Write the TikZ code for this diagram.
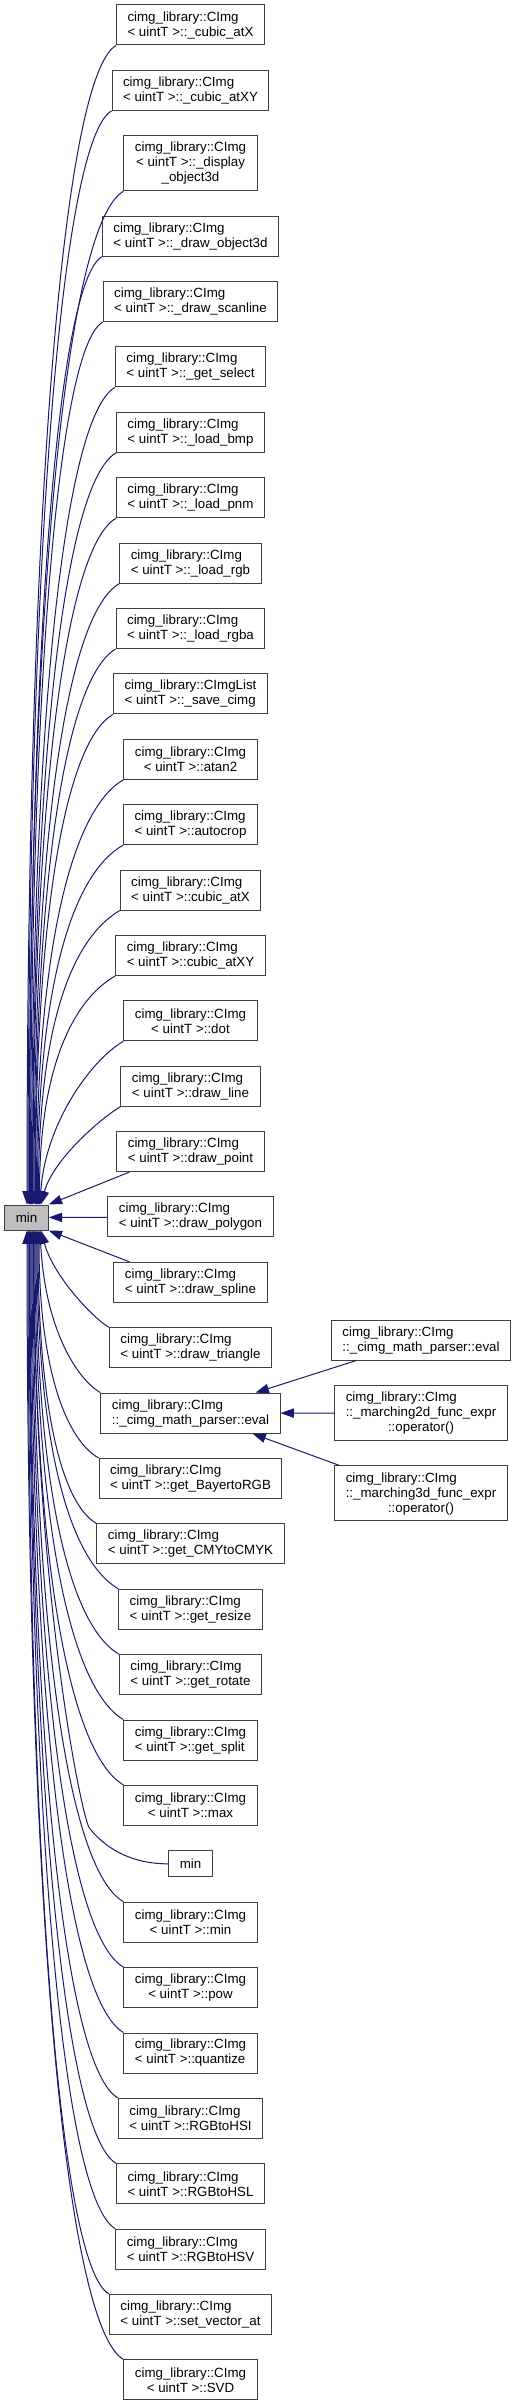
\documentclass[tikz,border=0pt]{standalone}
\usepackage{fontspec}
\setmainfont{Liberation Sans}
\usepackage{xcolor}
\definecolor{edgeblue}{HTML}{191970}
\definecolor{rootgray}{HTML}{BFBFBF}
\definecolor{rimgray}{HTML}{404040}
\usetikzlibrary{arrows.meta,positioning,calc}
\newcommand{\leftpair}[2]{\begin{tabular}[b]{@{}l@{}}#1\\#2\end{tabular}}

\begin{document}
\begin{tikzpicture}[
  x=0.75pt,y=-0.75pt,
  node distance=18.29pt,
  fn/.style={draw=rimgray,fill=white,line width=0.75pt,align=left,minimum height=30pt,inner xsep=8.25pt,inner ysep=1pt,font=\fontsize{10}{11.25}\selectfont},
  fnc/.style={fn,align=center},
  root/.style={fn,fill=rootgray,minimum height=18.75pt},
  call/.style={draw=edgeblue,line width=0.75pt,-{Triangle[length=10pt,width=7pt]}}
]
\useasboundingbox (0,0) rectangle (515,2405);
\node[root] (minroot) at (26.5,1217.5) {min};
% callers, top to bottom
\node[fn] (cubicX) at (190.5,25) {cimg\_library::CImg\\< uintT >::\_cubic\_atX};
\node[fn,below=of cubicX] (cubicXY) {cimg\_library::CImg\\< uintT >::\_cubic\_atXY};
\node[fnc,below=of cubicXY,minimum height=41.25pt] (dispobj) {cimg\_library::CImg\\< uintT >::\_display\\\_object3d};
\node[fn,below=of dispobj] (drawobj) {cimg\_library::CImg\\< uintT >::\_draw\_object3d};
\node[fn,below=of drawobj] (drawscan) {cimg\_library::CImg\\< uintT >::\_draw\_scanline};
\node[fn,below=of drawscan] (getsel) {cimg\_library::CImg\\< uintT >::\_get\_select};
\node[fn,below=of getsel] (loadbmp) {cimg\_library::CImg\\< uintT >::\_load\_bmp};
\node[fn,below=of loadbmp] (loadpnm) {cimg\_library::CImg\\< uintT >::\_load\_pnm};
\node[fn,below=of loadpnm] (loadrgb) {cimg\_library::CImg\\< uintT >::\_load\_rgb};
\node[fn,below=of loadrgb] (loadrgba) {cimg\_library::CImg\\< uintT >::\_load\_rgba};
\node[fn,below=of loadrgba] (savecimg) {cimg\_library::CImgList\\< uintT >::\_save\_cimg};
\node[fnc,below=of savecimg] (atan) {cimg\_library::CImg\\< uintT >::atan2};
\node[fn,below=of atan] (autocrop) {cimg\_library::CImg\\< uintT >::autocrop};
\node[fn,below=of autocrop] (cubX) {cimg\_library::CImg\\< uintT >::cubic\_atX};
\node[fn,below=of cubX] (cubXY) {cimg\_library::CImg\\< uintT >::cubic\_atXY};
\node[fnc,below=of cubXY] (dotp) {cimg\_library::CImg\\< uintT >::dot};
\node[fn,below=of dotp] (drline) {cimg\_library::CImg\\< uintT >::draw\_line};
\node[fn,below=of drline] (drpoint) {cimg\_library::CImg\\< uintT >::draw\_point};
\node[fn,below=of drpoint] (drpoly) {cimg\_library::CImg\\< uintT >::draw\_polygon};
\node[fn,below=of drpoly] (drspline) {cimg\_library::CImg\\< uintT >::draw\_spline};
\node[fn,below=of drspline] (drtri) {cimg\_library::CImg\\< uintT >::draw\_triangle};
\node[fn,below=of drtri] (evalp) {cimg\_library::CImg\\::\_cimg\_math\_parser::eval};
\node[fn,below=of evalp] (bayer) {cimg\_library::CImg\\< uintT >::get\_BayertoRGB};
\node[fn,below=of bayer] (cmy) {cimg\_library::CImg\\< uintT >::get\_CMYtoCMYK};
\node[fn,below=of cmy] (resize) {cimg\_library::CImg\\< uintT >::get\_resize};
\node[fn,below=of resize] (rotate) {cimg\_library::CImg\\< uintT >::get\_rotate};
\node[fn,below=of rotate] (split) {cimg\_library::CImg\\< uintT >::get\_split};
\node[fnc,below=of split] (maxf) {cimg\_library::CImg\\< uintT >::max};
\node[fn,below=of maxf,minimum height=19.5pt] (minf) {min};
\node[fnc,below=of minf] (minimg) {cimg\_library::CImg\\< uintT >::min};
\node[fnc,below=of minimg] (powf) {cimg\_library::CImg\\< uintT >::pow};
\node[fn,below=of powf] (quant) {cimg\_library::CImg\\< uintT >::quantize};
\node[fn,below=of quant] (hsi) {cimg\_library::CImg\\< uintT >::RGBtoHSI};
\node[fn,below=of hsi] (hsl) {cimg\_library::CImg\\< uintT >::RGBtoHSL};
\node[fn,below=of hsl] (hsv) {cimg\_library::CImg\\< uintT >::RGBtoHSV};
\node[fn,below=of hsv] (setvec) {cimg\_library::CImg\\< uintT >::set\_vector\_at};
\node[fnc,below=of setvec] (svd) {cimg\_library::CImg\\< uintT >::SVD};
% callers of eval
\node[fnc,minimum height=41.25pt] (mtwo) at (421,1413) {\leftpair{cimg\_library::CImg}{::\_marching2d\_func\_expr}\\::operator()};
\node[fn,above=of mtwo] (mpeval) {cimg\_library::CImg\\::\_cimg\_math\_parser::eval};
\node[fnc,below=of mtwo,minimum height=41.25pt] (mthree) {\leftpair{cimg\_library::CImg}{::\_marching3d\_func\_expr}\\::operator()};
% edges into min from above
\draw[call] (cubicX.south west) .. controls +(-53,31) and +(0,-696) .. ($(minroot.north)+(0.5,0)$);
\draw[call] (cubicXY.south west) .. controls +(-50,29) and +(0,-656) .. ($(minroot.north)+(1.5,0)$);
\draw[call] (dispobj.south west) .. controls +(-57,33) and +(0,-608) .. ($(minroot.north)+(2.5,0)$);
\draw[call] (drawobj.south west) .. controls +(-44,26) and +(0,-568) .. ($(minroot.north)+(3,0)$);
\draw[call] (drawscan.south west) .. controls +(-44,26) and +(0,-529) .. ($(minroot.north)+(4,0)$);
\draw[call] (getsel.south west) .. controls +(-50,29) and +(0,-490) .. ($(minroot.north)+(5,0)$);
\draw[call] (loadbmp.south west) .. controls +(-51,30) and +(0,-451) .. ($(minroot.north)+(6,0)$);
\draw[call] (loadpnm.south west) .. controls +(-50,29) and +(0,-412) .. ($(minroot.north)+(6.5,0)$);
\draw[call] (loadrgb.south west) .. controls +(-52,30) and +(0,-373) .. ($(minroot.north)+(7.5,0)$);
\draw[call] (loadrgba.south west) .. controls +(-49,29) and +(0,-334) .. ($(minroot.north)+(8.5,0)$);
\draw[call] (savecimg.south west) .. controls +(-47,27) and +(0,-295) .. ($(minroot.north)+(9,0)$);
\draw[call] (atan.south west) .. controls +(-52,30) and +(0,-255) .. ($(minroot.north)+(10,0)$);
\draw[call] (autocrop.south west) .. controls +(-52,30) and +(0,-216) .. ($(minroot.north)+(11,0)$);
\draw[call] (cubX.south west) .. controls +(-49,29) and +(0,-177) .. ($(minroot.north)+(12,0)$);
\draw[call] (cubXY.south west) .. controls +(-42,24) and +(0,-137) .. ($(minroot.north)+(13,0)$);
\draw[call] (dotp.south west) .. controls +(-33,19) and +(5,-80) .. ($(minroot.north)+(13.5,0)$);
\draw[call] (drline.south west) .. controls +(-19,11) and +(12,-45) .. ($(minroot.north)+(14.5,0)$);
\draw[call] ([xshift=9.75pt]drpoint.south west) -- (minroot.north east);
\draw[call] (drpoly) -- (minroot);
\draw[call] ([xshift=12pt]drspline.north west) -- (minroot.south east);
% edges into min from below
\draw[call] (drtri.north west) .. controls +(-16,-9) and +(12,45) .. ($(minroot.south)+(14.5,0)$);
\draw[call] (evalp.north west) .. controls +(-24,-14) and +(5,98) .. ($(minroot.south)+(13.5,0)$);
\draw[call] (bayer.north west) .. controls +(-33,-19) and +(0,137) .. ($(minroot.south)+(12.5,0)$);
\draw[call] (cmy.north west) .. controls +(-35,-20) and +(0,176) .. ($(minroot.south)+(11.5,0)$);
\draw[call] (resize.north west) .. controls +(-49,-29) and +(0,215) .. ($(minroot.south)+(10.5,0)$);
\draw[call] (rotate.north west) .. controls +(-50,-29) and +(0,255) .. ($(minroot.south)+(9.5,0)$);
\draw[call] (split.north west) .. controls +(-53,-31) and +(0,294) .. ($(minroot.south)+(8.5,0)$);
\draw[call] (maxf.north west) .. controls +(-54,-32) and +(0,333) .. ($(minroot.south)+(7.5,0)$);
\draw[call] (minf.west) .. controls +(-40,0) and +(14,18) .. ($(minf.west)+(-79,-36)$) .. controls +(-7,-9) and +(0,360) .. ($(minroot.south)+(7,0)$);
\draw[call] (minimg.north west) .. controls +(-55,-32) and +(0,403) .. ($(minroot.south)+(6.5,0)$);
\draw[call] (powf.north west) .. controls +(-55,-32) and +(0,442) .. ($(minroot.south)+(5.5,0)$);
\draw[call] (quant.north west) .. controls +(-56,-33) and +(0,482) .. ($(minroot.south)+(4.5,0)$);
\draw[call] (hsi.north west) .. controls +(-52,-30) and +(0,521) .. ($(minroot.south)+(3.5,0)$);
\draw[call] (hsl.north west) .. controls +(-51,-30) and +(0,560) .. ($(minroot.south)+(3,0)$);
\draw[call] (hsv.north west) .. controls +(-52,-30) and +(0,599) .. ($(minroot.south)+(2.5,0)$);
\draw[call] (setvec.north west) .. controls +(-49,-28) and +(0,638) .. ($(minroot.south)+(1.5,0)$);
\draw[call] (svd.north west) .. controls +(-58,-34) and +(0,678) .. ($(minroot.south)+(0.5,0)$);
% edges into eval
\draw[call] ([xshift=18.75pt]mpeval.south west) -- ([xshift=-18.75pt]evalp.north east);
\draw[call] (mtwo) -- (evalp);
\draw[call] ([xshift=3.75pt]mthree.north west) -- ([xshift=-21pt]evalp.south east);
\end{tikzpicture}
\end{document}
